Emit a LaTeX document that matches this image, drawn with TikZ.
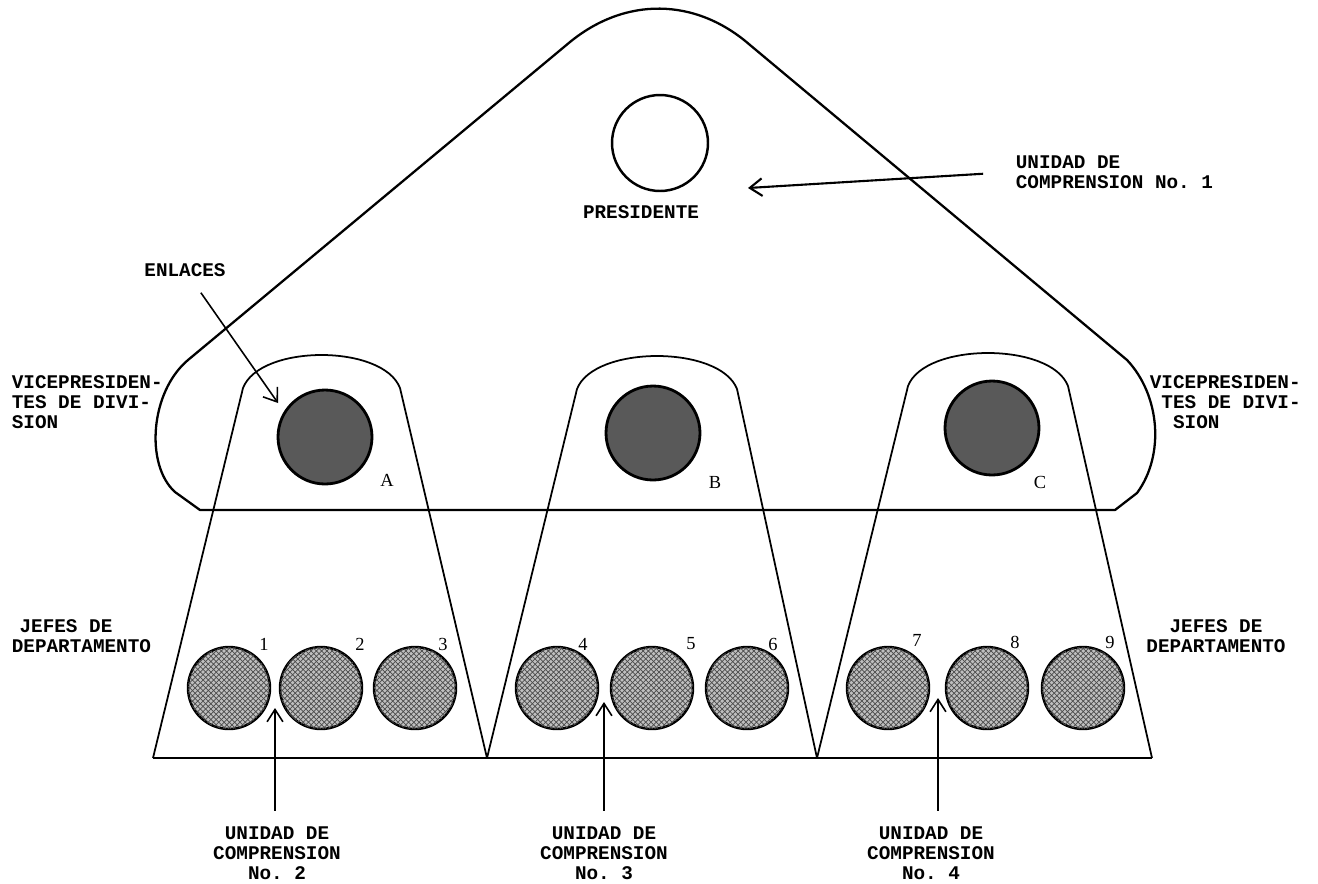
\documentclass[tikz,border=0pt]{standalone}
\usepackage{fontspec}
\setmainfont{Liberation Serif}
\setmonofont{Liberation Mono}
\usetikzlibrary{arrows.meta,patterns}

\begin{document}
\begin{tikzpicture}[x=0.02cm, y=-0.02cm,
    outline/.style={line width=1.3pt, line join=round},
    tower/.style={line width=1pt, line join=round},
    typed/.style={font=\ttfamily\bfseries\fontsize{11}{11.4}\selectfont, inner sep=2pt},
    letter/.style={font=\fontsize{10.5}{12}\selectfont, inner sep=1pt},
    vp/.style={circle, draw, line width=1.6pt, fill=black!65, minimum size=1.88cm, inner sep=0pt},
    dept/.style={circle, draw, line width=1.4pt, fill=black!25, minimum size=1.64cm, inner sep=0pt,
      postaction={pattern=crosshatch, pattern color=black!70}},
    pointer/.style={-{Straight Barb[length=7pt,width=10pt]}, line width=1.2pt},
    upper/.style={-{Straight Barb[length=7pt,width=9pt]}, line width=0.9pt}]

    \useasboundingbox (0,0) rectangle (1318,883);

    % the big rounded triangle
    \draw[outline] (200,510) -- (1115,510) -- (1137,493)
        .. controls (1165,455) and (1160,395) .. (1127,360)
        -- (750,45) .. controls (695,-3) and (625,-3) .. (570,42)
        -- (188,360) .. controls (150,392) and (145,465) .. (175,492)
        -- cycle;

    % three towers standing on the base line
    \foreach \l/\r/\bl/\br/\t in {243/400/153/487/388, 577/737/487/817/389, 908/1068/817/1152/386}
      \draw[tower] (\bl,758) -- (\l,\t) .. controls (\l+17,\t-44) and (\r-17,\t-44) .. (\r,\t) -- (\br,758);
    \draw[outline] (153,758) -- (1152,758);

    % presidente
    \node[circle, draw, line width=1.4pt, minimum size=1.92cm] (pres) at (660,143) {};
    \node[typed] (preslbl) at (641,212) {PRESIDENTE};

    % vicepresidentes
    \node[vp] (vpA) at (325,437) {};
    \node[vp] (vpB) at (653,433) {};
    \node[vp] (vpC) at (992,428) {};
    \node[letter] (lA) at (387,480) {A};
    \node[letter] (lB) at (715,482) {B};
    \node[letter] (lC) at (1040,482) {C};

    % jefes de departamento
    \foreach \n/\x/\lx/\ly in {1/229/264/644, 2/321/360/644, 3/415/443/644,
                               4/557/583/644, 5/652/691/644, 6/747/773/644,
                               7/888/917/640, 8/987/1015/642, 9/1083/1110/642} {
      \node[dept] (d\n) at (\x,688) {};
      \node[letter] (n\n) at (\lx,\ly) {\n};
    }

    % side labels
    \node[typed, anchor=west, align=left] (vpl) at (8,402)
        {VICEPRESIDEN-\\TES DE DIVI-\\SION};
    \node[typed, anchor=west, align=left] (vpr) at (1146,402)
        {VICEPRESIDEN-\\\hspace*{0.6em}TES DE DIVI-\\\hspace*{1.2em}SION};
    \node[typed, anchor=west, align=left] (jefl) at (8,636)
        {\hspace*{0.4em}JEFES DE\\DEPARTAMENTO};
    \node[typed, align=center] (jefr) at (1216,636) {JEFES DE\\DEPARTAMENTO};

    % unidades de comprension
    \node[typed, anchor=west, align=left] (uc1) at (1012,172) {UNIDAD DE\\COMPRENSION No. 1};
    \coordinate (tip1) at (748,188);
    \draw[pointer, shorten <=0.58cm] (uc1.west) -- (tip1);

    \node[typed] (enl) at (185,270) {ENLACES};
    \coordinate (tipE) at (278,403);
    \draw[pointer, line width=0.9pt, shorten <=0.3cm] (enl) -- (tipE);

    \node[typed, align=center] (uc2) at (277,853) {UNIDAD DE\\COMPRENSION\\No. 2};
    \node[typed, align=center] (uc3) at (604,853) {UNIDAD DE\\COMPRENSION\\No. 3};
    \node[typed, align=center] (uc4) at (931,853) {UNIDAD DE\\COMPRENSION\\No. 4};
    \coordinate (tip2) at (275,708);
    \coordinate (tip3) at (604,702);
    \coordinate (tip4) at (938,698);
    \draw[upper, shorten <=0.24cm] (tip2 |- uc2.north) -- (tip2);
    \draw[upper, shorten <=0.24cm] (tip3 |- uc3.north) -- (tip3);
    \draw[upper, shorten <=0.24cm] (tip4 |- uc4.north) -- (tip4);

\end{tikzpicture}
\end{document}
